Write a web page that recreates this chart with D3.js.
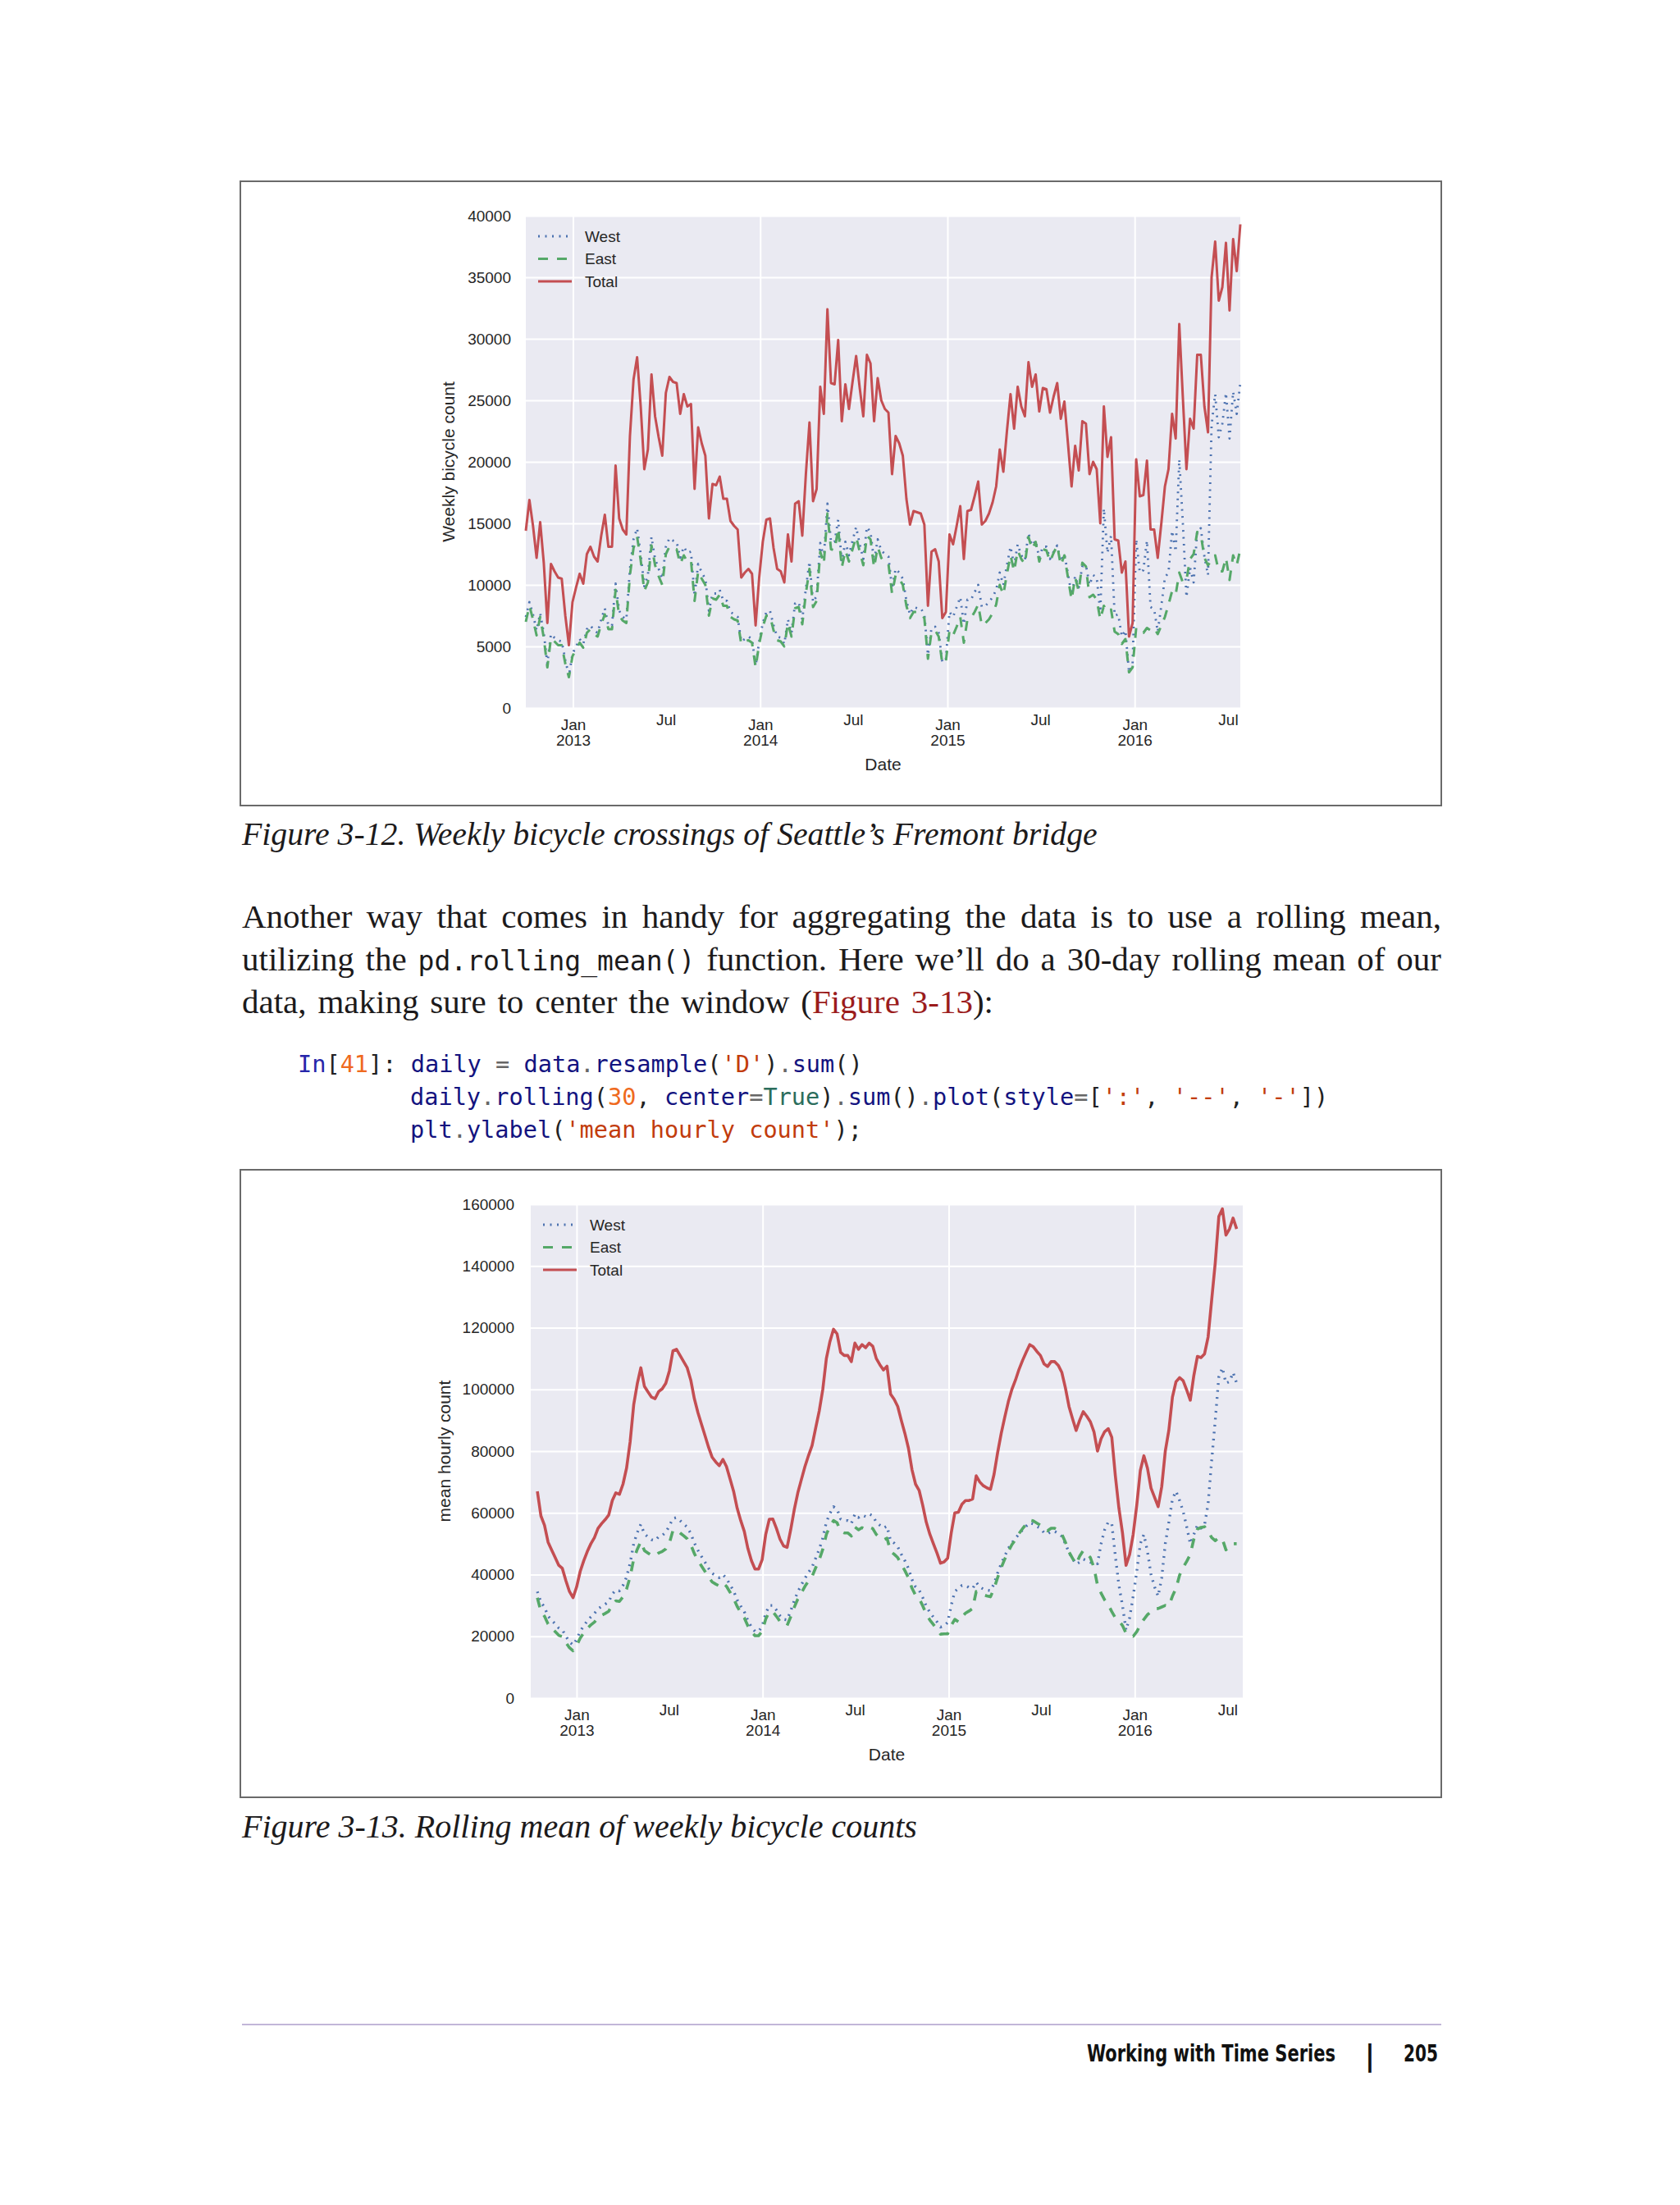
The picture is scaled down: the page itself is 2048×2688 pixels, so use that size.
<!DOCTYPE html>
<html>
<head>
<meta charset="utf-8">
<script src="https://cdn.jsdelivr.net/npm/d3@7"></script>
<style>
  body { margin: 0; background: #fff; }
</style>
</head>
<body>
<svg id="page" width="2048" height="2688"></svg>
<script>
// ---- data ----

// Figure 3-12: weekly sums, one value per week, first week starting 2012-10-01
var weeklyStart = "2012-10-01";
var weeklyTotal = [
  14400,16900,14800,12200,15100,11800,6900,11700,11100,10600,
  10500,7500,5100,8600,9800,10900,10100,12500,13100,12300,
  11900,14000,15700,13100,13100,19700,15400,14500,14100,22100,
  26700,28500,24500,19400,21000,27100,23700,22000,20500,25600,
  26900,26500,26400,23900,25500,24500,24700,17800,22800,21500,
  20500,15400,18200,18100,18800,17000,17000,15200,14800,14500,
  10600,11000,11300,10900,6700,10600,13500,15300,15400,13000,
  11300,11100,10200,14100,11900,16600,16800,14000,19000,23200,
  16800,17800,26100,23900,32400,26400,26300,29900,23300,26300,
  24300,26500,28600,26000,23700,28700,28000,23300,26800,25000,
  24300,24000,19000,22100,21500,20500,17000,14900,16000,15900,
  15800,14900,8300,12700,12900,11900,7300,7800,14100,13300,
  14800,16400,12100,16000,16100,17200,18400,14900,15200,15800,
  16700,18000,21000,19200,22500,25500,22700,26100,24500,23700,
  28100,26100,27100,24100,26000,25900,24000,25300,26400,23500,
  24900,21500,18000,21300,19300,23300,23100,19000,20000,19400,
  15000,24500,20400,22000,13700,13600,11000,11900,5800,6900,
  20200,17200,17300,20100,14500,14500,12200,15000,18000,19400,
  23900,21900,31200,25200,19400,23500,22700,28700,28700,24500,
  22400,35000,37900,33100,34200,37800,32300,38100,35500,39300
];
var weeklyWest = [
  7400,8600,7600,6300,7700,6100,3600,6000,5700,5500,
  5400,3900,2600,4400,5000,5600,5200,6400,6700,6300,
  6100,7200,8100,6700,6700,10100,7900,7400,7200,11300,
  13700,14600,12500,9900,10800,13900,12100,11300,10500,13100,
  13800,13600,13500,12200,13100,12600,12700,9100,11700,11000,
  10500,7900,9300,9300,9600,8700,8700,7800,7600,7400,
  5400,5600,5800,5600,3400,5400,6900,7800,7900,6700,
  5800,5700,5200,7200,6100,8500,8600,7200,9700,11900,
  8600,9100,13400,12200,16600,13500,13500,15300,11900,13500,
  12400,13600,14700,13300,12100,14700,14300,11900,13700,12800,
  12500,12300,9700,11300,11000,10500,8700,7600,8200,8100,
  8100,7600,4300,6500,6600,6100,3700,4000,7800,7400,
  8200,9000,6800,8800,8800,9400,10000,8200,8300,8600,
  9000,9600,11000,10000,11600,13100,11600,13300,12400,12000,
  14200,13200,13600,12200,13100,13100,12100,12700,13200,11900,
  12500,10900,9200,10700,9800,11500,11600,10000,10800,10600,
  7800,16200,12600,14000,7500,7600,5800,6300,2900,3600,
  13700,11000,11200,13600,8200,8000,6200,8300,10600,11000,
  14400,12700,20200,15000,9000,11400,10200,14400,14600,12300,
  10800,23000,25500,22000,23100,25600,21900,25700,23900,26400
];
var weeklyEast = [
  7000,8300,7200,5900,7400,5700,3300,5700,5400,5100,
  5100,3600,2500,4200,4800,5300,4900,6100,6400,6000,
  5800,6800,7600,6400,6400,9600,7500,7100,6900,10800,
  13000,13900,12000,9500,10200,13200,11600,10700,10000,12500,
  13100,12900,12900,11700,12400,11900,12000,8700,11100,10500,
  10000,7500,8900,8800,9200,8300,8300,7400,7200,7100,
  5200,5400,5500,5300,3300,5200,6600,7500,7500,6300,
  5500,5400,5000,6900,5800,8100,8200,6800,9300,11300,
  8200,8700,12700,11700,15800,12900,12800,14600,11400,12800,
  11900,12900,13900,12700,11600,14000,13700,11400,13100,12200,
  11800,11700,9300,10800,10500,10000,8300,7300,7800,7800,
  7700,7300,4000,6200,6300,5800,3600,3800,6300,5900,
  6600,7400,5300,7200,7300,7800,8400,6700,6900,7200,
  7700,8400,10000,9200,10900,12400,11100,12800,12100,11700,
  13900,12900,13500,11900,12900,12800,11900,12600,13200,11600,
  12400,10600,8800,10600,9500,11800,11500,9000,9200,8800,
  7200,8300,7800,8000,6200,6000,5200,5600,2900,3300,
  6500,6200,6100,6500,6300,6500,6000,6700,7400,8400,
  9500,9200,11000,10200,10400,12100,12500,14300,14100,12200,
  11600,12000,12400,11100,11100,12200,10400,12400,11600,12900
];

// Figure 3-13: 30-day centred rolling sum, read every 7 days from 2012-10-16
var rollingStart = "2012-10-16";
var rollingTotal = [
  67000,59000,56000,50500,48000,45500,43000,42000,38000,34500,
  32500,36000,41000,44500,47500,50000,52000,55000,56500,57800,
  59300,64000,66500,66000,69300,74500,83000,95000,101800,107000,
  101000,99200,97500,97000,99300,100200,102000,106000,112500,113000,
  111000,109000,107000,103000,97000,92500,88700,85000,81200,78000,
  76500,75300,77300,75000,71000,67000,61500,57500,54000,48500,
  44500,41800,41800,44800,53000,57900,58000,55000,51500,49300,
  48800,54500,61000,66500,70800,75000,78600,81800,87500,93000,
  100000,110000,115500,119500,118000,112000,111000,111000,109000,115000,
  113000,114500,113500,115000,114000,110000,108000,106300,107500,98500,
  96800,94500,90000,85800,81000,74000,69300,67300,62500,57000,
  53100,50000,47000,43700,44100,45300,53500,60000,60200,62800,
  64000,64000,64500,72000,70000,68800,68100,67600,72500,79500,
  85700,91000,96000,100000,103000,106500,109400,112000,114500,113800,
  112300,111000,108300,107400,109000,109000,107800,105500,100500,94500,
  90500,86700,90000,92800,91300,89500,86300,80000,84000,86300,
  87300,84500,72000,61500,53500,43000,46500,53000,62500,73700,
  78500,74500,68000,65000,62000,68500,80000,86800,97500,102500,
  103800,102800,99800,96500,104500,110700,110300,111500,117000,129000,
  141000,156000,158500,150000,152000,155500,152000
];
var rollingWest = [
  34500,31000,29500,26500,25200,24000,22700,22100,20000,18200,
  17200,19000,21600,23400,25000,26300,27400,28900,29700,30400,
  31200,33700,35000,34700,36500,39200,43700,50000,53600,56300,
  53200,52200,51300,51000,52300,52700,53700,55800,58200,58500,
  57500,56400,55400,53300,50200,47900,45900,44000,42000,40400,
  39600,39000,40000,38800,36700,34700,31800,29800,28000,25100,
  23000,21600,21600,23200,27400,30000,30000,28500,26700,25500,
  25300,28200,31600,34400,36700,38800,40700,42400,45300,48200,
  51800,57000,59800,62000,61200,58000,57500,57500,56500,59600,
  58500,59300,58800,59600,59100,57000,56000,55100,55700,51000,
  50200,49000,46600,44500,42000,38400,36000,35000,32600,29800,
  27800,26200,24700,23000,23300,24500,30000,34500,35500,36500,
  36500,35800,35500,37500,36000,35300,35000,34800,37000,40500,
  43500,46000,48500,50300,51700,53200,54500,55700,56800,56400,
  55600,55000,53600,53200,54000,54000,53400,52400,50000,47200,
  45200,43400,44000,45000,44500,44000,44000,43500,50000,54500,
  57000,56500,46000,36500,30000,22000,26000,33000,41000,50000,
  53000,47500,40000,36000,33000,39000,50000,57000,64500,67000,
  64000,60500,55500,50000,53000,56000,55000,56000,63000,77000,
  90000,104000,107000,102000,102500,105500,102000
];
var rollingEast = [
  32500,28000,26500,24000,22800,21500,20300,19900,18000,16300,
  15300,17000,19400,21100,22500,23700,24600,26100,26800,27400,
  28100,30300,31500,31300,32800,35300,39300,45000,48200,50700,
  47800,47000,46200,46000,47000,47500,48300,50200,54300,54500,
  53500,52600,51600,49700,46800,44600,42800,41000,39200,37600,
  36900,36300,37300,36200,34300,32300,29700,27700,26000,23400,
  21500,20200,20200,21600,25600,27900,28000,26500,24800,23800,
  23500,26300,29400,32100,34100,36200,37900,39400,42200,44800,
  48200,53000,55700,57500,56800,54000,53500,53500,52500,55400,
  54500,55200,54700,55400,54900,53000,52000,51200,51800,47500,
  46600,45500,43400,41300,39000,35600,33300,32300,29900,27200,
  25300,23800,22300,20700,20800,20800,23500,25500,24700,26300,
  27500,28200,29000,34500,34000,33500,33100,32800,35500,39000,
  42200,45000,47500,49700,51300,53300,54900,56300,57700,57400,
  56700,56000,54700,54200,55000,55000,54400,53100,50500,47300,
  45300,43300,46000,47800,46800,45500,42300,36500,34000,31800,
  30300,28000,26000,25000,23500,21000,20500,20000,21500,23700,
  25500,27000,28000,29000,29000,29500,30000,29800,33000,35500,
  39800,42300,44300,46500,51500,54700,55300,55500,54000,52000,
  51000,52000,51500,48000,49500,50000,50000
];

var seriesNames = ["West", "East", "Total"];
var weeklyTicks = [0, 5000, 10000, 15000, 20000, 25000, 30000, 35000, 40000];
var rollingTicks = [0, 20000, 40000, 60000, 80000, 100000, 120000, 140000, 160000];
var majorTicks = ["2013-01-01", "2014-01-01", "2015-01-01", "2016-01-01"];
var minorTicks = ["2013-07-01", "2014-07-01", "2015-07-01", "2016-07-01"];

// ---- page ----
var SERIF = "'Liberation Serif', 'DejaVu Serif', serif";
var MONO = "'DejaVu Sans Mono', 'Liberation Mono', monospace";
var SANS = "'Liberation Sans', Arial, sans-serif";
var FOOT = "'Liberation Sans Narrow', 'DejaVu Sans Condensed', 'Roboto', sans-serif";
var INK = "#1c1a1b";

var parse = d3.utcParse("%Y-%m-%d");
var svg = d3.select("#page");
svg.append("rect").attr("width", 2048).attr("height", 2688).attr("fill", "#fff");

var styles = {
  West:  { color: "#4c72b0", dash: "2,6.5", width: 2.8 },
  East:  { color: "#55a868", dash: "12,11", width: 3 },
  Total: { color: "#c44e52", dash: null, width: 3 }
};

function toPoints(start, step, values) {
  var t0 = parse(start);
  return values.map(function(v, i) {
    return { date: d3.utcDay.offset(t0, step * i), v: v };
  });
}

function drawChart(opt) {
  var w = opt.w, h = opt.h;
  var g = svg.append("g").attr("transform", "translate(" + opt.left + "," + opt.top + ")");

  var x = d3.scaleUtc().domain(opt.xDomain.map(parse)).range([0, w]);
  var y = d3.scaleLinear().domain([0, opt.yMax]).range([h, 0]);

  g.append("rect").attr("width", w).attr("height", h).attr("fill", "#eaeaf2");

  // y grid + tick labels
  var ya = g.append("g")
      .call(d3.axisLeft(y).tickValues(opt.yTicks).tickSize(-w).tickPadding(opt.tickPad).tickFormat(d3.format("d")))
      .attr("font-family", SANS).attr("font-size", 19).attr("color", "#262626");
  ya.select(".domain").remove();
  ya.selectAll("line").attr("stroke", "#fff").attr("stroke-width", 2);

  // x grid on the year ticks
  var xg = g.append("g").attr("transform", "translate(0," + h + ")")
      .call(d3.axisBottom(x).tickValues(majorTicks.map(parse)).tickSize(-h).tickFormat(""));
  xg.select(".domain").remove();
  xg.selectAll("text").remove();
  xg.selectAll("line").attr("stroke", "#fff").attr("stroke-width", 2);

  // major labels: Jan / year
  var xa = g.append("g").attr("transform", "translate(0," + h + ")")
      .call(d3.axisBottom(x).tickValues(majorTicks.map(parse)).tickSize(0).tickPadding(14))
      .attr("font-family", SANS).attr("font-size", 19).attr("color", "#262626");
  xa.select(".domain").remove();
  xa.selectAll("text").each(function(d) {
    var t = d3.select(this).attr("dy", null).text(null);
    t.append("tspan").attr("x", 0).attr("dy", "0.71em").text("Jan");
    t.append("tspan").attr("x", 0).attr("dy", "1.0em").text(d.getUTCFullYear());
  });

  // minor labels: Jul
  var xm = g.append("g").attr("transform", "translate(0," + h + ")")
      .call(d3.axisBottom(x).tickValues(minorTicks.map(parse)).tickSize(0).tickPadding(8)
        .tickFormat(d3.utcFormat("%b")))
      .attr("font-family", SANS).attr("font-size", 19).attr("color", "#262626");
  xm.select(".domain").remove();

  var line = d3.line().x(function(d) { return x(d.date); }).y(function(d) { return y(d.v); });

  opt.series.forEach(function(s) {
    var st = styles[s.name];
    g.append("path").datum(s.data)
      .attr("d", line)
      .attr("fill", "none")
      .attr("stroke", st.color)
      .attr("stroke-width", st.width * (opt.lineScale || 1))
      .attr("stroke-dasharray", st.dash)
      .attr("stroke-linejoin", "round");
  });

  // legend, no frame
  var rows = [25, 52.5, 80];
  seriesNames.forEach(function(name, i) {
    var st = styles[name];
    g.append("line")
      .attr("x1", 15).attr("x2", 56).attr("y1", rows[i]).attr("y2", rows[i])
      .attr("stroke", st.color).attr("stroke-width", st.width)
      .attr("stroke-dasharray", st.dash);
    g.append("text")
      .attr("x", 72).attr("y", rows[i]).attr("dy", "0.35em")
      .attr("font-family", SANS).attr("font-size", 19).attr("fill", "#262626")
      .text(name);
  });

  g.append("text")
    .attr("transform", "translate(" + opt.yLabelX + "," + (h / 2) + ") rotate(-90)")
    .attr("text-anchor", "middle").attr("dy", "0.35em")
    .attr("font-family", SANS).attr("font-size", 21).attr("fill", "#262626")
    .text(opt.yLabel);

  g.append("text")
    .attr("x", w / 2).attr("y", h + 76)
    .attr("text-anchor", "middle")
    .attr("font-family", SANS).attr("font-size", 21).attr("fill", "#262626")
    .text("Date");
}

function frame(y0, y1) {
  svg.append("rect")
    .attr("x", 293).attr("y", y0).attr("width", 1464).attr("height", y1 - y0)
    .attr("fill", "none").attr("stroke", "#6a6a6a").attr("stroke-width", 2);
}

// squeeze a text horizontally to a measured width (keeps glyph height)
function squeezed(x, y, str, attrs, width) {
  var t = svg.append("text").text(str);
  Object.keys(attrs).forEach(function(k) { t.attr(k, attrs[k]); });
  var natural = t.node().getComputedTextLength();
  var k = width / natural;
  t.attr("transform", "translate(" + x + "," + y + ") scale(" + k + ",1)");
  return t;
}

function caption(y, str, width) {
  squeezed(295, y, str, {
    "font-family": SERIF, "font-style": "italic", "font-size": 40, "fill": INK
  }, width);
}

function bodyLine(y, parts, width) {
  var t = svg.append("text")
    .attr("x", 295).attr("y", y)
    .attr("font-family", SERIF).attr("font-size", 41).attr("fill", INK);
  parts.forEach(function(p) {
    var s = t.append("tspan").text(p.text);
    if (p.mono) s.attr("font-family", MONO).attr("font-size", 33);
    if (p.fill) s.attr("fill", p.fill);
  });
  var natural = t.node().getComputedTextLength();
  var spaces = parts.map(function(p) { return p.text; }).join("").split(" ").length - 1;
  t.style("word-spacing", ((width - natural) / spaces) + "px");
}

function codeLine(y, x, tokens) {
  var t = svg.append("text")
    .attr("x", x).attr("y", y)
    .attr("font-family", MONO).attr("font-size", 28.6)
    .attr("xml:space", "preserve");
  tokens.forEach(function(tk) {
    t.append("tspan").attr("fill", tk[1]).text(tk[0]);
  });
}

// ---- figure 3-12 ----
frame(221, 982);
drawChart({
  left: 641, top: 263, w: 871, h: 600,
  xDomain: ["2012-10-01", "2016-07-25"],
  yMax: 40000, yTicks: weeklyTicks, tickPad: 18,
  yLabel: "Weekly bicycle count", yLabelX: -94,
  series: [
    { name: "West",  data: toPoints(weeklyStart, 7, weeklyWest) },
    { name: "East",  data: toPoints(weeklyStart, 7, weeklyEast) },
    { name: "Total", data: toPoints(weeklyStart, 7, weeklyTotal) }
  ]
});
caption(1030, "Figure 3-12. Weekly bicycle crossings of Seattle\u2019s Fremont bridge", 1043);

// ---- text between the figures ----
bodyLine(1131, [{ text: "Another way that comes in handy for aggregating the data is to use a rolling mean," }], 1462);
bodyLine(1183, [
  { text: "utilizing the " },
  { text: "pd.rolling_mean()", mono: true },
  { text: " function. Here we\u2019ll do a 30-day rolling mean of our" }
], 1462);
bodyLine(1235, [
  { text: "data, making sure to center the window (" },
  { text: "Figure 3-13", fill: "#9b1c1c" },
  { text: "):" }
], 916);

var NAME = "#13137f", NUM = "#ef6a1e", STR = "#c23c0c", PUN = "#222", OP = "#666", KW = "#2b6d5c", PROMPT = "#2626aa";
codeLine(1307, 363, [["In", PROMPT], ["[", PUN], ["41", NUM], ["]: ", PUN], ["daily", NAME], [" = ", OP],
  ["data", NAME], [".", OP], ["resample", NAME], ["(", PUN], ["'D'", STR], [")", PUN], [".", OP], ["sum", NAME], ["()", PUN]]);
codeLine(1347, 500, [["daily", NAME], [".", OP], ["rolling", NAME], ["(", PUN], ["30", NUM], [", ", PUN],
  ["center", NAME], ["=", OP], ["True", KW], [")", PUN], [".", OP], ["sum", NAME], ["()", PUN], [".", OP],
  ["plot", NAME], ["(", PUN], ["style", NAME], ["=", OP], ["[", PUN], ["':'", STR], [", ", PUN], ["'--'", STR],
  [", ", PUN], ["'-'", STR], ["])", PUN]]);
codeLine(1387, 500, [["plt", NAME], [".", OP], ["ylabel", NAME], ["(", PUN], ["'mean hourly count'", STR], [");", PUN]]);

// ---- figure 3-13 ----
frame(1426, 2191);
drawChart({
  left: 647, top: 1468, w: 868, h: 602,
  xDomain: ["2012-10-03", "2016-07-31"],
  yMax: 160000, yTicks: rollingTicks, tickPad: 20,
  yLabel: "mean hourly count", yLabelX: -105,
  lineScale: 1.2,
  series: [
    { name: "West",  data: toPoints(rollingStart, 7, rollingWest) },
    { name: "East",  data: toPoints(rollingStart, 7, rollingEast) },
    { name: "Total", data: toPoints(rollingStart, 7, rollingTotal) }
  ]
});
caption(2240, "Figure 3-13. Rolling mean of weekly bicycle counts", 823);

// ---- footer ----
svg.append("line")
  .attr("x1", 295).attr("x2", 1757).attr("y1", 2468).attr("y2", 2468)
  .attr("stroke", "#c2b6d8").attr("stroke-width", 2);
var footAttrs = { "font-family": FOOT, "font-weight": "bold", "font-size": 29, "fill": "#111" };
squeezed(1325, 2513, "Working with Time Series", footAttrs, 303);
svg.append("text")
  .attr("x", 1670).attr("y", 2518).attr("text-anchor", "middle")
  .attr("font-family", FOOT).attr("font-weight", "bold").attr("font-size", 36).attr("fill", "#111")
  .text("|");
squeezed(1711, 2513, "205", footAttrs, 42);
</script>
</body>
</html>
